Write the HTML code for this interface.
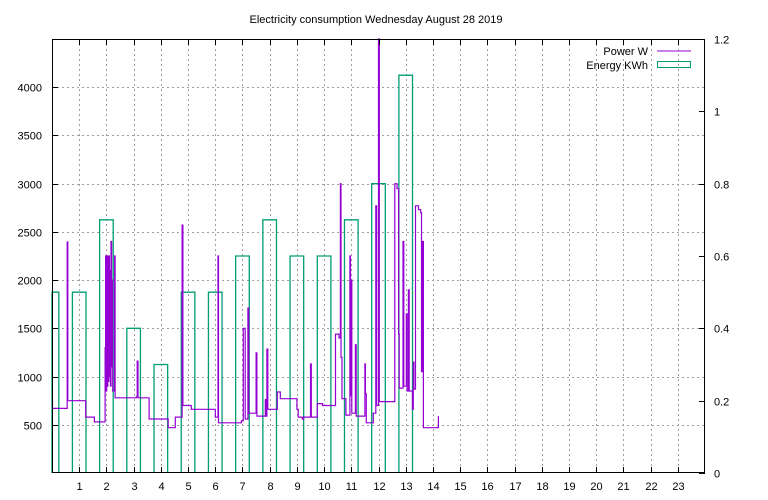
<!DOCTYPE html>
<html><head><meta charset="utf-8"><style>
body{margin:0;background:#fff;}
svg{display:block;font-family:"Liberation Sans",sans-serif;font-size:11px;}
</style></head><body>
<svg id="chart" width="768" height="500" xmlns="http://www.w3.org/2000/svg">
<rect x="0" y="0" width="768" height="500" fill="#fff"/>
<text x="376" y="23" text-anchor="middle">Electricity consumption Wednesday August 28 2019</text>
<g id="grid"></g>
<g id="energy"></g>
<g id="power"></g>
<g id="axes"></g>
<g>
<text x="648" y="55" text-anchor="end">Power W</text>
<line x1="657" y1="51" x2="691" y2="51" stroke="#9400d3" stroke-width="1"/>
<text x="648" y="69" text-anchor="end">Energy KWh</text>
<rect x="657.5" y="61.5" width="33" height="6" fill="none" stroke="#009e73" stroke-width="1"/>
</g>
</svg>
<script>
const energyHours=[0,1,2,3,4,5,6,7,8,9,10,11,12,13];
const energyKWh=[0.5,0.5,0.7,0.4,0.3,0.5,0.5,0.6,0.7,0.6,0.6,0.7,0.8,1.1];
const powerT=[0,0.02,0.56,0.58,1.24,1.56,1.95,1.97,1.99,2.01,2.03,2.05,2.07,2.09,2.11,2.13,2.15,2.17,2.19,2.21,2.23,2.3,2.32,3.1,3.13,3.16,3.57,4.27,4.53,4.78,4.81,5.12,6.0,6.1,6.12,6.96,7.03,7.1,7.2,7.23,7.5,7.53,7.84,7.87,7.9,7.93,8.28,8.39,9.0,9.05,9.2,9.25,9.5,9.53,9.75,9.94,10.42,10.55,10.6,10.62,10.66,10.8,10.95,10.97,11.0,11.02,11.15,11.18,11.5,11.52,11.55,11.81,11.9,11.93,12.0,12.03,12.6,12.68,12.74,12.76,12.9,12.93,13.02,13.05,13.1,13.13,13.25,13.28,13.3,13.36,13.47,13.55,13.58,13.62,13.65,14.2];
const powerW=[760,670,2395,750,580,530,1300,2250,850,2250,900,2250,950,2250,1000,2100,900,2400,1100,2000,850,2250,780,790,1160,780,560,470,580,2570,700,660,580,2250,520,540,1500,560,1710,620,1245,590,760,590,1285,660,840,770,660,580,560,580,1130,580,720,700,1440,1400,3000,1200,770,600,2250,800,2000,620,1330,590,1130,820,520,620,2770,700,4600,740,3000,2950,1440,880,2400,900,1650,850,1900,850,660,1150,870,2770,2730,2700,1050,2400,470,590];
const leftTicks=[500,1000,1500,2000,2500,3000,3500,4000];
const rightTicks=[0,0.2,0.4,0.6,0.8,1,1.2];
const xTicks=[1,2,3,4,5,6,7,8,9,10,11,12,13,14,15,16,17,18,19,20,21,22,23];

const L=52,R=705,T=39,B=473;
const X=h=>L+(R-L)*h/24;
const Y=w=>B-(B-T)*w/4500;
const Y2=e=>B-(B-T)*e/1.2;
const NS="http://www.w3.org/2000/svg";
function mk(tag,parent,attrs){const e=document.createElementNS(NS,tag);for(const k in attrs)e.setAttribute(k,attrs[k]);parent.appendChild(e);return e;}
const grid=document.getElementById('grid'),axes=document.getElementById('axes');
const dash={stroke:"#a0a0a0","stroke-width":1,"stroke-dasharray":"2,3"};
leftTicks.forEach(v=>{const y=Math.round(Y(v))+0.5;
 const g=mk('line',grid,Object.assign({x1:L,x2:R,y1:y,y2:y},dash));
 
 
 const t=mk('line',axes,{x1:L,x2:L+6,y1:y,y2:y,stroke:"#000"});
 
 
 const tx=mk('text',axes,{x:42,y:y+4,"text-anchor":"end"});tx.textContent=v;
 
 
});
rightTicks.forEach(v=>{const y=Math.round(Y2(v))+0.5;
 const t=mk('line',axes,{x1:R-6,x2:R,y1:y,y2:y,stroke:"#000"});
 
 
 const tx=mk('text',axes,{x:714,y:y+4});tx.textContent=v;
 
 
});
xTicks.forEach(v=>{const x=Math.round(X(v))+0.5;
 const g=mk('line',grid,Object.assign({x1:x,x2:x,y1:T,y2:B},dash));
 
 
 const t=mk('line',axes,{x1:x,x2:x,y1:B,y2:B-6,stroke:"#000"});
 
 
 const t2=mk('line',axes,{x1:x,x2:x,y1:T,y2:T+6,stroke:"#000"});
 
 
 const tx=mk('text',axes,{x:x,y:490,"text-anchor":"middle"});tx.textContent=v;
 
 
});
const frame=mk('rect',axes,{x:L+0.5,y:T+0.5,width:R-L-1,height:B-T-1,fill:"none",stroke:"#000"});


const en=document.getElementById('energy');
energyHours.forEach((h,i)=>{
 let x1=X(h-0.25),x2=X(h+0.25);x1=Math.max(x1,L);
 const y=Y2(energyKWh[i]);
 const r=mk('path',en,{d:`M${x1} ${B} V${y} H${x2} V${B}`,fill:"none",stroke:"#009e73","stroke-width":1.3});
 
 
});
let d=`M${X(powerT[0])} ${Y(powerW[0])}`;
for(let i=1;i<powerT.length;i++){d+=` H${X(powerT[i]).toFixed(1)} V${Math.max(Y(powerW[i]),T).toFixed(1)}`;}
const p=mk('path',document.getElementById('power'),{d:d,fill:"none",stroke:"#9400d3","stroke-width":1.2});


</script>
</body></html>
